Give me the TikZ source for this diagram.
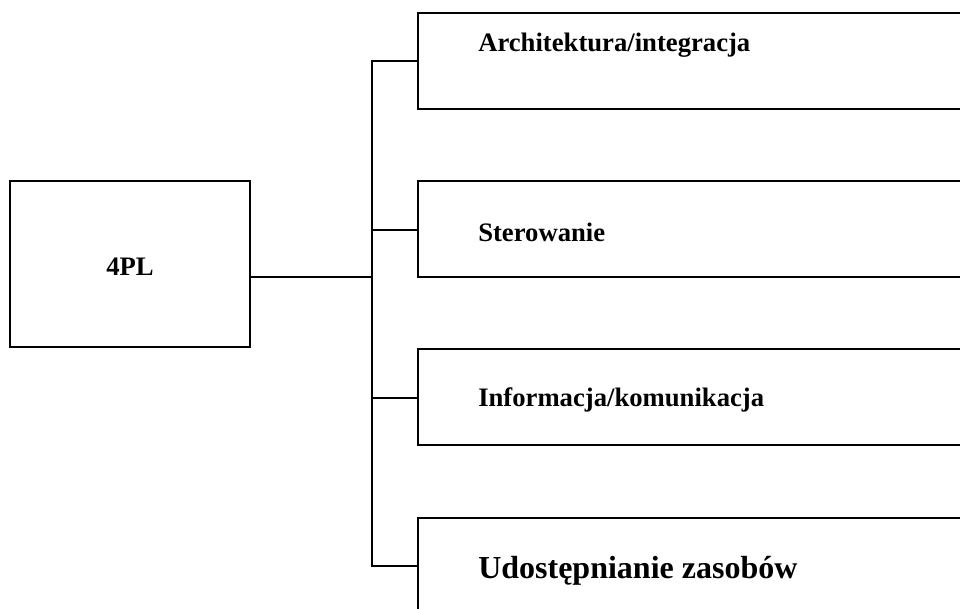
\documentclass[tikz,border=0pt]{standalone}
\usepackage{fontspec}
\setmainfont{Liberation Serif}
\begin{document}
\begin{tikzpicture}[x=0.75pt,y=-0.75pt,
  frame/.style={draw=black,line width=1.5pt,fill=white},
  link/.style={draw=black,line width=1.5pt},
  lbl/.style={anchor=west,inner sep=0pt,font=\bfseries\fontsize{20}{24}\selectfont}]
\useasboundingbox (0,0) rectangle (960,608);
% main box
\draw[frame] (10,181) rectangle (250,347);
\node[font=\bfseries\fontsize{20}{24}\selectfont] (main) at (130,267) {4PL};
\coordinate (mainR) at (250,277);
% branch boxes, cut off by the page edge
\draw[frame] (418,13) rectangle (980,109);
\draw[frame] (418,181) rectangle (980,277);
\draw[frame] (418,349) rectangle (980,445);
\draw[frame] (418,518) rectangle (980,640);
\node[lbl] (b1) at (478,45) {Architektura/integracja};
\node[lbl] (b2) at (478,232) {Sterowanie};
\node[lbl] (b3) at (478,400) {Informacja/komunikacja};
\node[lbl,font=\bfseries\fontsize{24}{28}\selectfont] (b4) at (478,571) {Udostępnianie zasobów};
\coordinate (e1) at (418,61);
\coordinate (e2) at (418,230);
\coordinate (e3) at (418,398);
\coordinate (e4) at (418,566);
\coordinate (t1) at (372,61);
\coordinate (t2) at (372,230);
\coordinate (t3) at (372,398);
\coordinate (t4) at (372,566);
\coordinate (tm) at (372,277);
% connectors
\draw[link] (mainR) -- (tm);
\draw[link] (e1) -- (t1) -- (t4) -- (e4);
\draw[link] (t2) -- (e2);
\draw[link] (t3) -- (e3);
\end{tikzpicture}
\end{document}
